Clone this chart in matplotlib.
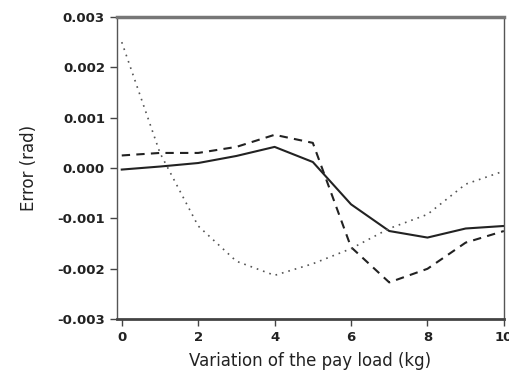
import matplotlib
matplotlib.use('Agg')
import matplotlib.pyplot as plt
import numpy as np

# pay load variation (kg)
load = [0, 1, 2, 3, 4, 5, 6, 7, 8, 9, 10]

# error curves (rad)
err_solid = [-0.00003, 0.00003, 0.0001, 0.00024, 0.00042, 0.00012, -0.00072, -0.00125, -0.00138, -0.0012, -0.00115]
err_dashed = [0.00025, 0.0003, 0.0003, 0.00042, 0.00066, 0.0005, -0.00157, -0.00227, -0.002, -0.00148, -0.00125]
err_dotted = [0.0025, 0.0003, -0.00115, -0.00185, -0.00213, -0.0019, -0.0016, -0.0012, -0.00092, -0.00032, -0.00006]

yticks = [-0.003, -0.002, -0.001, 0.0, 0.001, 0.002, 0.003]
ytick_labels = ['-0.003', '-0.002', '-0.001', '0.000', '0.001', '0.002', '0.003']

fig = plt.figure(figsize=(5.1, 3.85), dpi=100)
ax = fig.add_axes([0.229, 0.171, 0.759, 0.785])

ax.plot(load, err_solid, color='#222222', lw=1.5, ls='-')
ax.plot(load, err_dashed, color='#222222', lw=1.5, ls=(0, (4, 3)))
ax.plot(load, err_dotted, color='#555555', lw=1.2, ls=(0, (1, 3)))

ax.set_xlim(-0.13, 10)
ax.set_ylim(-0.003, 0.003)
ax.set_xticks([0, 2, 4, 6, 8, 10])
ax.set_yticks(yticks)
ax.set_yticklabels(ytick_labels)

for s in ['left', 'right']:
    ax.spines[s].set_color('#555555')
    ax.spines[s].set_linewidth(1.0)
ax.spines['top'].set_color('#777777')
ax.spines['top'].set_linewidth(2.5)
ax.spines['bottom'].set_color('#444444')
ax.spines['bottom'].set_linewidth(2.0)

ax.tick_params(axis='both', direction='out', length=5, width=1, color='#444444',
               labelsize=9.5, labelcolor='#222222')
for lab in ax.get_yticklabels() + ax.get_xticklabels():
    lab.set_fontweight('bold')

ax.set_xlabel('Variation of the pay load (kg)', fontsize=12, color='#222222', labelpad=6)
ax.set_ylabel('Error (rad)', fontsize=12, color='#222222', labelpad=14)

fig.savefig('out.png', dpi=100)
